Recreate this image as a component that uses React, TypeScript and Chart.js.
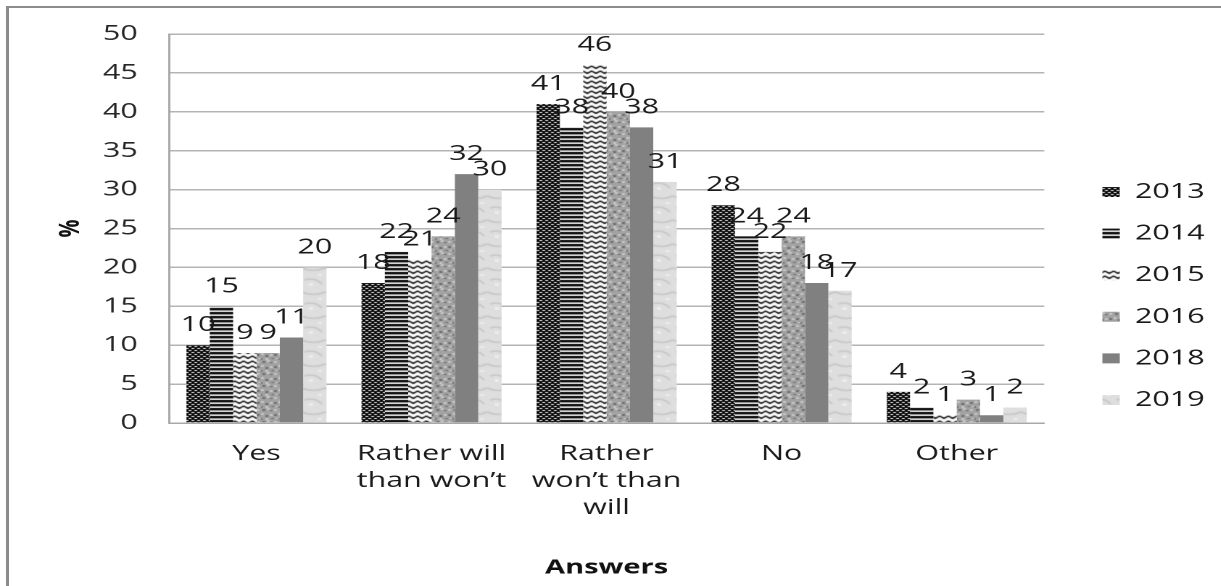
import React, { useEffect, useRef } from "react";
import { Chart, registerables } from "chart.js";

Chart.register(...registerables);

const categories: (string | string[])[] = [
  "Yes",
  ["Rather will", "than won’t"],
  ["Rather", "won’t than", "will"],
  "No",
  "Other",
];
const years = ["2013", "2014", "2015", "2016", "2018", "2019"];
const v2013 = [10, 18, 41, 28, 4];
const v2014 = [15, 22, 38, 24, 2];
const v2015 = [9, 21, 46, 22, 1];
const v2016 = [9, 24, 40, 24, 3];
const v2018 = [11, 32, 38, 18, 1];
const v2019 = [20, 30, 31, 17, 2];
const seriesValues = [v2013, v2014, v2015, v2016, v2018, v2019];
const yTicks = [0, 5, 10, 15, 20, 25, 30, 35, 40, 45, 50];

const W = 1221;
const H = 586;
const S = 1.45; // horizontal stretch of the whole picture
const IW = Math.round(W / S);
const FONT = "'Open Sans', 'DejaVu Sans', sans-serif";

function tile(w: number, h: number, draw: (c: CanvasRenderingContext2D) => void) {
  const t = document.createElement("canvas");
  t.width = w;
  t.height = h;
  const c = t.getContext("2d")!;
  draw(c);
  return t;
}

function makePatterns(ctx: CanvasRenderingContext2D) {
  const p2013 = tile(4, 4, (c) => {
    c.fillStyle = "#000";
    c.fillRect(0, 0, 4, 4);
    c.fillStyle = "#fff";
    c.fillRect(0, 0, 2, 1);
    c.fillRect(2, 2, 2, 1);
  });
  const p2014 = tile(4, 4, (c) => {
    c.fillStyle = "#fff";
    c.fillRect(0, 0, 4, 4);
    c.fillStyle = "#000";
    c.fillRect(0, 0, 4, 2.4);
  });
  const p2015 = tile(6, 5, (c) => {
    c.fillStyle = "#fff";
    c.fillRect(0, 0, 6, 5);
    c.strokeStyle = "#000";
    c.lineWidth = 1.3;
    c.beginPath();
    c.moveTo(-3, 3.5);
    c.lineTo(0, 1);
    c.lineTo(3, 3.5);
    c.lineTo(6, 1);
    c.lineTo(9, 3.5);
    c.stroke();
  });
  const p2016 = tile(12, 12, (c) => {
    c.fillStyle = "#a2a2a2";
    c.fillRect(0, 0, 12, 12);
    c.fillStyle = "#6e6e6e";
    const dark = [[1, 1, 2, 2], [6, 2, 2, 1], [9, 6, 2, 2], [3, 7, 2, 2], [7, 10, 2, 1], [0, 10, 1, 2]];
    dark.forEach(([x, y, w, h]) => c.fillRect(x, y, w, h));
    c.fillStyle = "#c6c6c6";
    const light = [[4, 0, 2, 2], [9, 1, 2, 2], [0, 5, 2, 2], [6, 6, 2, 2], [3, 10, 2, 2], [10, 10, 2, 1]];
    light.forEach(([x, y, w, h]) => c.fillRect(x, y, w, h));
  });
  const p2019 = tile(16, 24, (c) => {
    c.fillStyle = "#dedede";
    c.fillRect(0, 0, 16, 24);
    c.strokeStyle = "#c8c8c8";
    c.lineWidth = 1.5;
    c.beginPath();
    c.moveTo(0, 4);
    c.quadraticCurveTo(8, 9, 16, 4);
    c.moveTo(2, 16);
    c.quadraticCurveTo(9, 13, 14, 20);
    c.stroke();
    c.fillStyle = "#ececec";
    c.fillRect(5, 19, 3, 3);
    c.fillRect(11, 10, 3, 2);
  });
  return [
    ctx.createPattern(p2013, "repeat")!,
    ctx.createPattern(p2014, "repeat")!,
    ctx.createPattern(p2015, "repeat")!,
    ctx.createPattern(p2016, "repeat")!,
    "#808080",
    ctx.createPattern(p2019, "repeat")!,
  ];
}

const valueLabels = {
  id: "valueLabels",
  afterDatasetsDraw(chart: any) {
    const ctx = chart.ctx as CanvasRenderingContext2D;
    ctx.save();
    ctx.font = `21px ${FONT}`;
    ctx.fillStyle = "#1a1a1a";
    ctx.textAlign = "center";
    ctx.textBaseline = "alphabetic";
    chart.data.datasets.forEach((ds: any, i: number) => {
      const meta = chart.getDatasetMeta(i);
      meta.data.forEach((bar: any, j: number) => {
        ctx.fillText(String(ds.data[j]), bar.x, bar.y - 14);
      });
    });
    ctx.restore();
  },
};

export default function App() {
  const ref = useRef<HTMLCanvasElement>(null);

  useEffect(() => {
    const canvas = ref.current!;
    const ctx = canvas.getContext("2d")!;
    const fills = makePatterns(ctx);
    const chart = new Chart(canvas, {
      type: "bar",
      data: {
        labels: categories,
        datasets: years.map((y, i) => ({
          label: y,
          data: seriesValues[i],
          backgroundColor: fills[i] as any,
          borderWidth: 0,
          categoryPercentage: 0.8,
          barPercentage: 1.0,
        })),
      },
      options: {
        animation: false,
        responsive: false,
        devicePixelRatio: 2,
        layout: { padding: { left: 0, top: 33, right: 1.2, bottom: 27 } },
        plugins: {
          tooltip: { enabled: false },
          legend: {
            position: "right",
            align: "center",
            labels: {
              boxWidth: 12,
              boxHeight: 10,
              padding: 20.6,
              color: "#1a1a1a",
              font: { size: 21, family: FONT },
            },
          },
        },
        scales: {
          x: {
            grid: { display: false },
            border: { display: true, color: "#a8a8a8", width: 1.5 },
            ticks: {
              color: "#1a1a1a",
              font: { size: 21, family: FONT, lineHeight: 1.29 },
              padding: 9.5,
              maxRotation: 0,
              autoSkip: false,
            },
            title: {
              display: true,
              text: "Answers",
              color: "#111",
              font: { size: 20, family: FONT, weight: "bold" },
              padding: { top: 0, bottom: -21 },
            },
            afterFit: (s: any) => {
              s.height = H - 27 - 423;
            },
          },
          y: {
            min: 0,
            max: 50,
            grid: { color: "#b4b4b4", lineWidth: 1.5, drawTicks: false },
            border: { display: true, color: "#a8a8a8", width: 1.5 },
            afterBuildTicks: (s: any) => {
              s.ticks = yTicks.map((v) => ({ value: v }));
            },
            ticks: {
              color: "#262626",
              font: { size: 21, family: FONT },
              padding: 21.5,
            },
            title: {
              display: true,
              text: "%",
              color: "#111",
              font: { size: 20, family: FONT, weight: "bold" },
              padding: { top: 37, bottom: 0 },
            },
            afterFit: (s: any) => {
              s.width = 116.5;
            },
          },
          gap: {
            type: "linear",
            position: "right",
            display: true,
            grid: { display: false },
            border: { display: false },
            ticks: { display: false },
            afterFit: (s: any) => {
              s.width = 19.5;
            },
          },
        },
      } as any,
      plugins: [valueLabels],
    });
    return () => chart.destroy();
  }, []);

  return (
    <div
      style={{
        position: "fixed",
        left: 0,
        top: 0,
        width: W,
        height: H,
        overflow: "hidden",
        background: "#fff",
      }}
    >
      <div
        style={{
          position: "absolute",
          left: 6,
          top: 6,
          right: -10,
          bottom: -10,
          borderTop: "2px solid #8c8c8c",
          borderLeft: "3px solid #8c8c8c",
        }}
      />
      <canvas
        ref={ref}
        width={IW}
        height={H}
        style={{
          position: "absolute",
          left: 0,
          top: 0,
          width: IW,
          height: H,
          transform: `scaleX(${S})`,
          transformOrigin: "0 0",
        }}
      />
    </div>
  );
}
